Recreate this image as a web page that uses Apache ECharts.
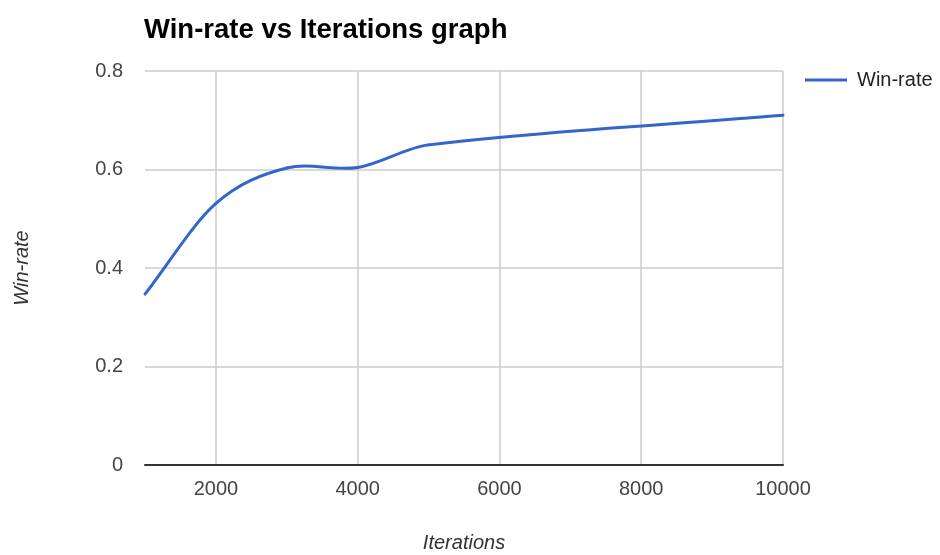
<!doctype html>
<html lang="en">

<head>
	<meta charset="UTF-8">
	<title>Win-rate vs Iterations graph</title>
	<script src="https://cdn.jsdelivr.net/npm/echarts@6/dist/echarts.min.js"></script>
	<style>
		html, body { margin: 0; padding: 0; background: #fff; }
		#lineChart { width: 940px; height: 555px; }
	</style>
</head>

<body>
	<div id="lineChart"></div>

	<script>
		// data
		var iterations = [1000, 2000, 3000, 4000, 5000, 10000];
		var winRate = [0.347, 0.531, 0.603, 0.604, 0.650, 0.710];
		var yTicks = [0, 0.2, 0.4, 0.6, 0.8];

		var lineColor = '#3366cc';
		var lineChart = echarts.init(document.getElementById('lineChart'));

		var points = iterations.map(function (x, i) { return [x, winRate[i]]; });

		// the picture uses a "function" curve that overshoots a little between points,
		// echarts' own smooth clamps that, so each segment is drawn as a cubic
		// hermite curve with finite-difference slopes (in pixel space)
		function slopeAt(p, j) {
			var a = p[Math.max(j - 1, 0)], b = p[Math.min(j + 1, p.length - 1)];
			return (b[1] - a[1]) / (b[0] - a[0]);
		}

		function renderSegment(params, api) {
			var i = params.dataIndex;
			if (i >= points.length - 1) return null;
			var p = points.map(function (d) { return api.coord(d); });
			var p1 = p[i], p2 = p[i + 1];
			var h = (p2[0] - p1[0]) / 3;
			var m1 = slopeAt(p, i), m2 = slopeAt(p, i + 1);
			return {
				type: 'bezierCurve',
				shape: {
					x1: p1[0], y1: p1[1],
					cpx1: p1[0] + h, cpy1: p1[1] + m1 * h,
					cpx2: p2[0] - h, cpy2: p2[1] - m2 * h,
					x2: p2[0], y2: p2[1]
				},
				style: { stroke: lineColor, lineWidth: 3, fill: null, lineCap: 'round' }
			};
		}

		option = {
			animation: false,
			textStyle: { fontFamily: 'Liberation Sans, Arial, sans-serif' },
			title: {
				text: 'Win-rate vs Iterations graph',
				left: 144,
				top: 16,
				padding: 0,
				textStyle: { fontSize: 27.5, fontWeight: 'bold', color: '#000' }
			},
			legend: {
				data: ['Win-rate'],
				left: 805,
				top: 70,
				padding: 0,
				icon: 'rect',
				itemWidth: 42,
				itemHeight: 3,
				textStyle: { fontSize: 20, color: '#222', padding: [0, 0, 0, 5] }
			},
			grid: { left: 145, right: 157, top: 71, bottom: 90, outerBoundsMode: 'none', containLabel: false },
			xAxis: {
				type: 'value',
				min: iterations[0],
				max: iterations[iterations.length - 1],
				splitNumber: 5,
				name: 'Iterations',
				nameLocation: 'middle',
				nameGap: 68,
				nameTextStyle: { fontSize: 20, fontStyle: 'italic', color: '#333' },
				axisLine: { show: true, lineStyle: { color: '#333', width: 2 } },
				axisTick: { show: false },
				axisLabel: {
					showMinLabel: false, fontSize: 20, color: '#444', margin: 14,
					formatter: function (v) { return String(v); }
				},
				splitLine: { show: true, showMinLine: false, lineStyle: { color: '#ccc', width: 1.5 } }
			},
			yAxis: {
				type: 'value',
				min: yTicks[0],
				max: yTicks[yTicks.length - 1],
				interval: 0.2,
				name: 'Win-rate',
				nameLocation: 'middle',
				nameGap: 113,
				nameTextStyle: { fontSize: 20, fontStyle: 'italic', color: '#333' },
				axisLine: { show: false },
				axisTick: { show: false },
				axisLabel: { fontSize: 20, color: '#444', margin: 22 },
				splitLine: { lineStyle: { color: '#ccc', width: 1.5 } }
			},
			series: [
				{
					name: 'Win-rate',
					type: 'custom',
					clip: false,
					itemStyle: { color: lineColor },
					renderItem: renderSegment,
					data: points
				}
			]
		};
		lineChart.setOption(option);
	</script>
</body>

</html>
